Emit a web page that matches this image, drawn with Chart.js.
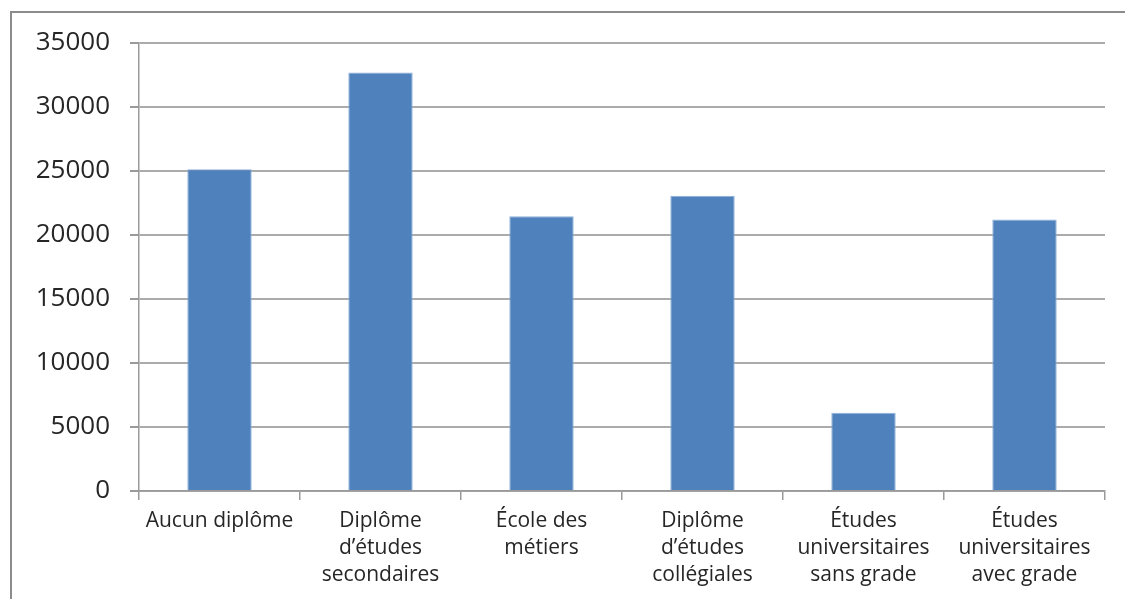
<!DOCTYPE html>
<html>
<head>
<meta charset="utf-8">
<script src="https://cdn.jsdelivr.net/npm/chart.js@4/dist/chart.umd.min.js"></script>
<style>
  html, body { margin: 0; padding: 0; background: #fff; }
  #wrap { position: relative; width: 1125px; height: 599px; }
  #frame { position: absolute; left: 10px; top: 11px; right: 0; bottom: 0;
           border-top: 2px solid #8c8c8c; border-left: 2px solid #8c8c8c; pointer-events: none; }
  canvas { position: absolute; left: 0; top: 0; }
</style>
</head>
<body>
<div id="wrap">
  <canvas id="c" width="1125" height="599"></canvas>
  <div id="frame"></div>
</div>
<script>
// Niveau de scolarité
const categories = [
  ["Aucun diplôme"],
  ["Diplôme", "d\u2019études", "secondaires"],
  ["École des", "métiers"],
  ["Diplôme", "d\u2019études", "collégiales"],
  ["Études", "universitaires", "sans grade"],
  ["Études", "universitaires", "avec grade"]
];
const values = [25130, 32700, 21460, 23070, 6120, 21220];
const yTicks = [0, 5000, 10000, 15000, 20000, 25000, 30000, 35000];

const FONT = "'Open Sans', 'Liberation Sans', sans-serif";
const gridColor = '#ababab';

new Chart(document.getElementById('c'), {
  type: 'bar',
  data: {
    labels: categories,
    datasets: [{
      data: values,
      backgroundColor: '#4f81bd',
      borderColor: '#8eb0da',
      borderWidth: 1,
      barPercentage: 0.4,
      categoryPercentage: 1.0
    }]
  },
  options: {
    responsive: false,
    animation: false,
    layout: { padding: { left: 0, top: 43, right: 20, bottom: 0 } },
    plugins: { legend: { display: false }, tooltip: { enabled: false } },
    scales: {
      x: {
        offset: true,
        grid: {
          offset: true,
          drawOnChartArea: false,
          drawTicks: true,
          tickLength: 9,
          color: '#9a9a9a',
          lineWidth: 1.5
        },
        border: { display: true, color: '#9a9a9a', width: 1.5 },
        ticks: {
          font: { family: FONT, size: 21, lineHeight: 1.29 },
          color: '#262626',
          padding: 7,
          maxRotation: 0,
          autoSkip: false
        },
        afterFit(scale) { scale.height = 599 - 491; }
      },
      y: {
        min: 0,
        max: 35000,
        afterBuildTicks(scale) { scale.ticks = yTicks.map(v => ({ value: v })); },
        grid: {
          color: gridColor,
          lineWidth: 2,
          drawTicks: true,
          tickLength: 9,
          tickColor: '#9a9a9a'
        },
        border: { display: true, color: '#9a9a9a', width: 1.5 },
        ticks: {
          font: { family: FONT, size: 26 },
          color: '#262626',
          padding: 20,
          callback: v => String(v)
        },
        afterFit(scale) { scale.width = 139; }
      }
    }
  }
});
</script>
</body>
</html>
